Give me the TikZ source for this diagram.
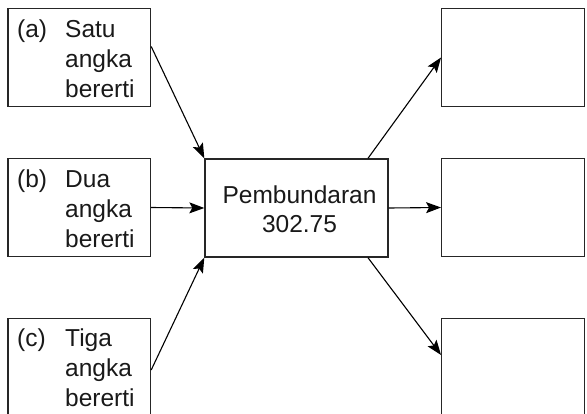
\documentclass[tikz,border=0pt]{standalone}
\usepackage{fontspec}
\setmainfont{Liberation Sans}
\usetikzlibrary{arrows.meta}
\begin{document}
\begin{tikzpicture}[x=1pt,y=-1pt,
  box/.style={draw=black!85,line width=1.4pt,inner sep=0pt,minimum width=142.5pt,minimum height=98pt},
  cbox/.style={draw=black!85,line width=1.4pt,inner sep=0pt,minimum width=183pt,minimum height=98pt},
  lbl/.style={anchor=base west,inner sep=0pt,text=black!90,font=\fontsize{24.5}{29}\selectfont},
  clbl/.style={anchor=base,inner sep=0pt,text=black!90,font=\fontsize{24.5}{29}\selectfont},
  arr/.style={line width=1.1pt,-{Stealth[length=15pt,width=11pt,inset=3pt]}}]
\useasboundingbox (0,0) rectangle (587,413);
\clip (0,0) rectangle (587,413);
% left boxes
\node[box] (a) at (79.25,57.5) {};
\node[box] (b) at (79.25,207.5) {};
\node[box] (c) at (79.25,367.5) {};
% center
\node[cbox] (m) at (296.5,208) {};
% right boxes
\node[box] (ra) at (513,57.5) {};
\node[box] (rb) at (513,207.5) {};
\node[box] (rc) at (513,367.5) {};
% texts
\node[lbl] (a0) at (17,37.5) {(a)};
\node[lbl] (a1) at (65,37.5) {Satu};
\node[lbl] (a2) at (65,67.5) {angka};
\node[lbl] (a3) at (65,97.5) {bererti};
\node[lbl] (b0) at (17,187.5) {(b)};
\node[lbl] (b1) at (65,187.5) {Dua};
\node[lbl] (b2) at (65,217.5) {angka};
\node[lbl] (b3) at (65,247) {bererti};
\node[lbl] (c0) at (17,346) {(c)};
\node[lbl] (c1) at (65,346) {Tiga};
\node[lbl] (c2) at (65,376) {angka};
\node[lbl] (c3) at (65,406) {bererti};
\node[clbl] (m1) at (299.5,203) {Pembundaran};
\node[clbl] (m2) at (299.5,232) {302.75};
% connectors
\draw[arr] (a.north east |- 0,46.5) -- (m.north west);
\draw[arr] (b.east) -- (m.west);
\draw[arr] (c.north east |- 0,370) -- (m.south west);
\draw[arr] (m.north west -| 368,0) -- (ra.west);
\draw[arr] (m.east) -- (rb.west);
\draw[arr] (m.south west -| 368,0) -- (rc.north west |- 0,355);
\end{tikzpicture}
\end{document}
